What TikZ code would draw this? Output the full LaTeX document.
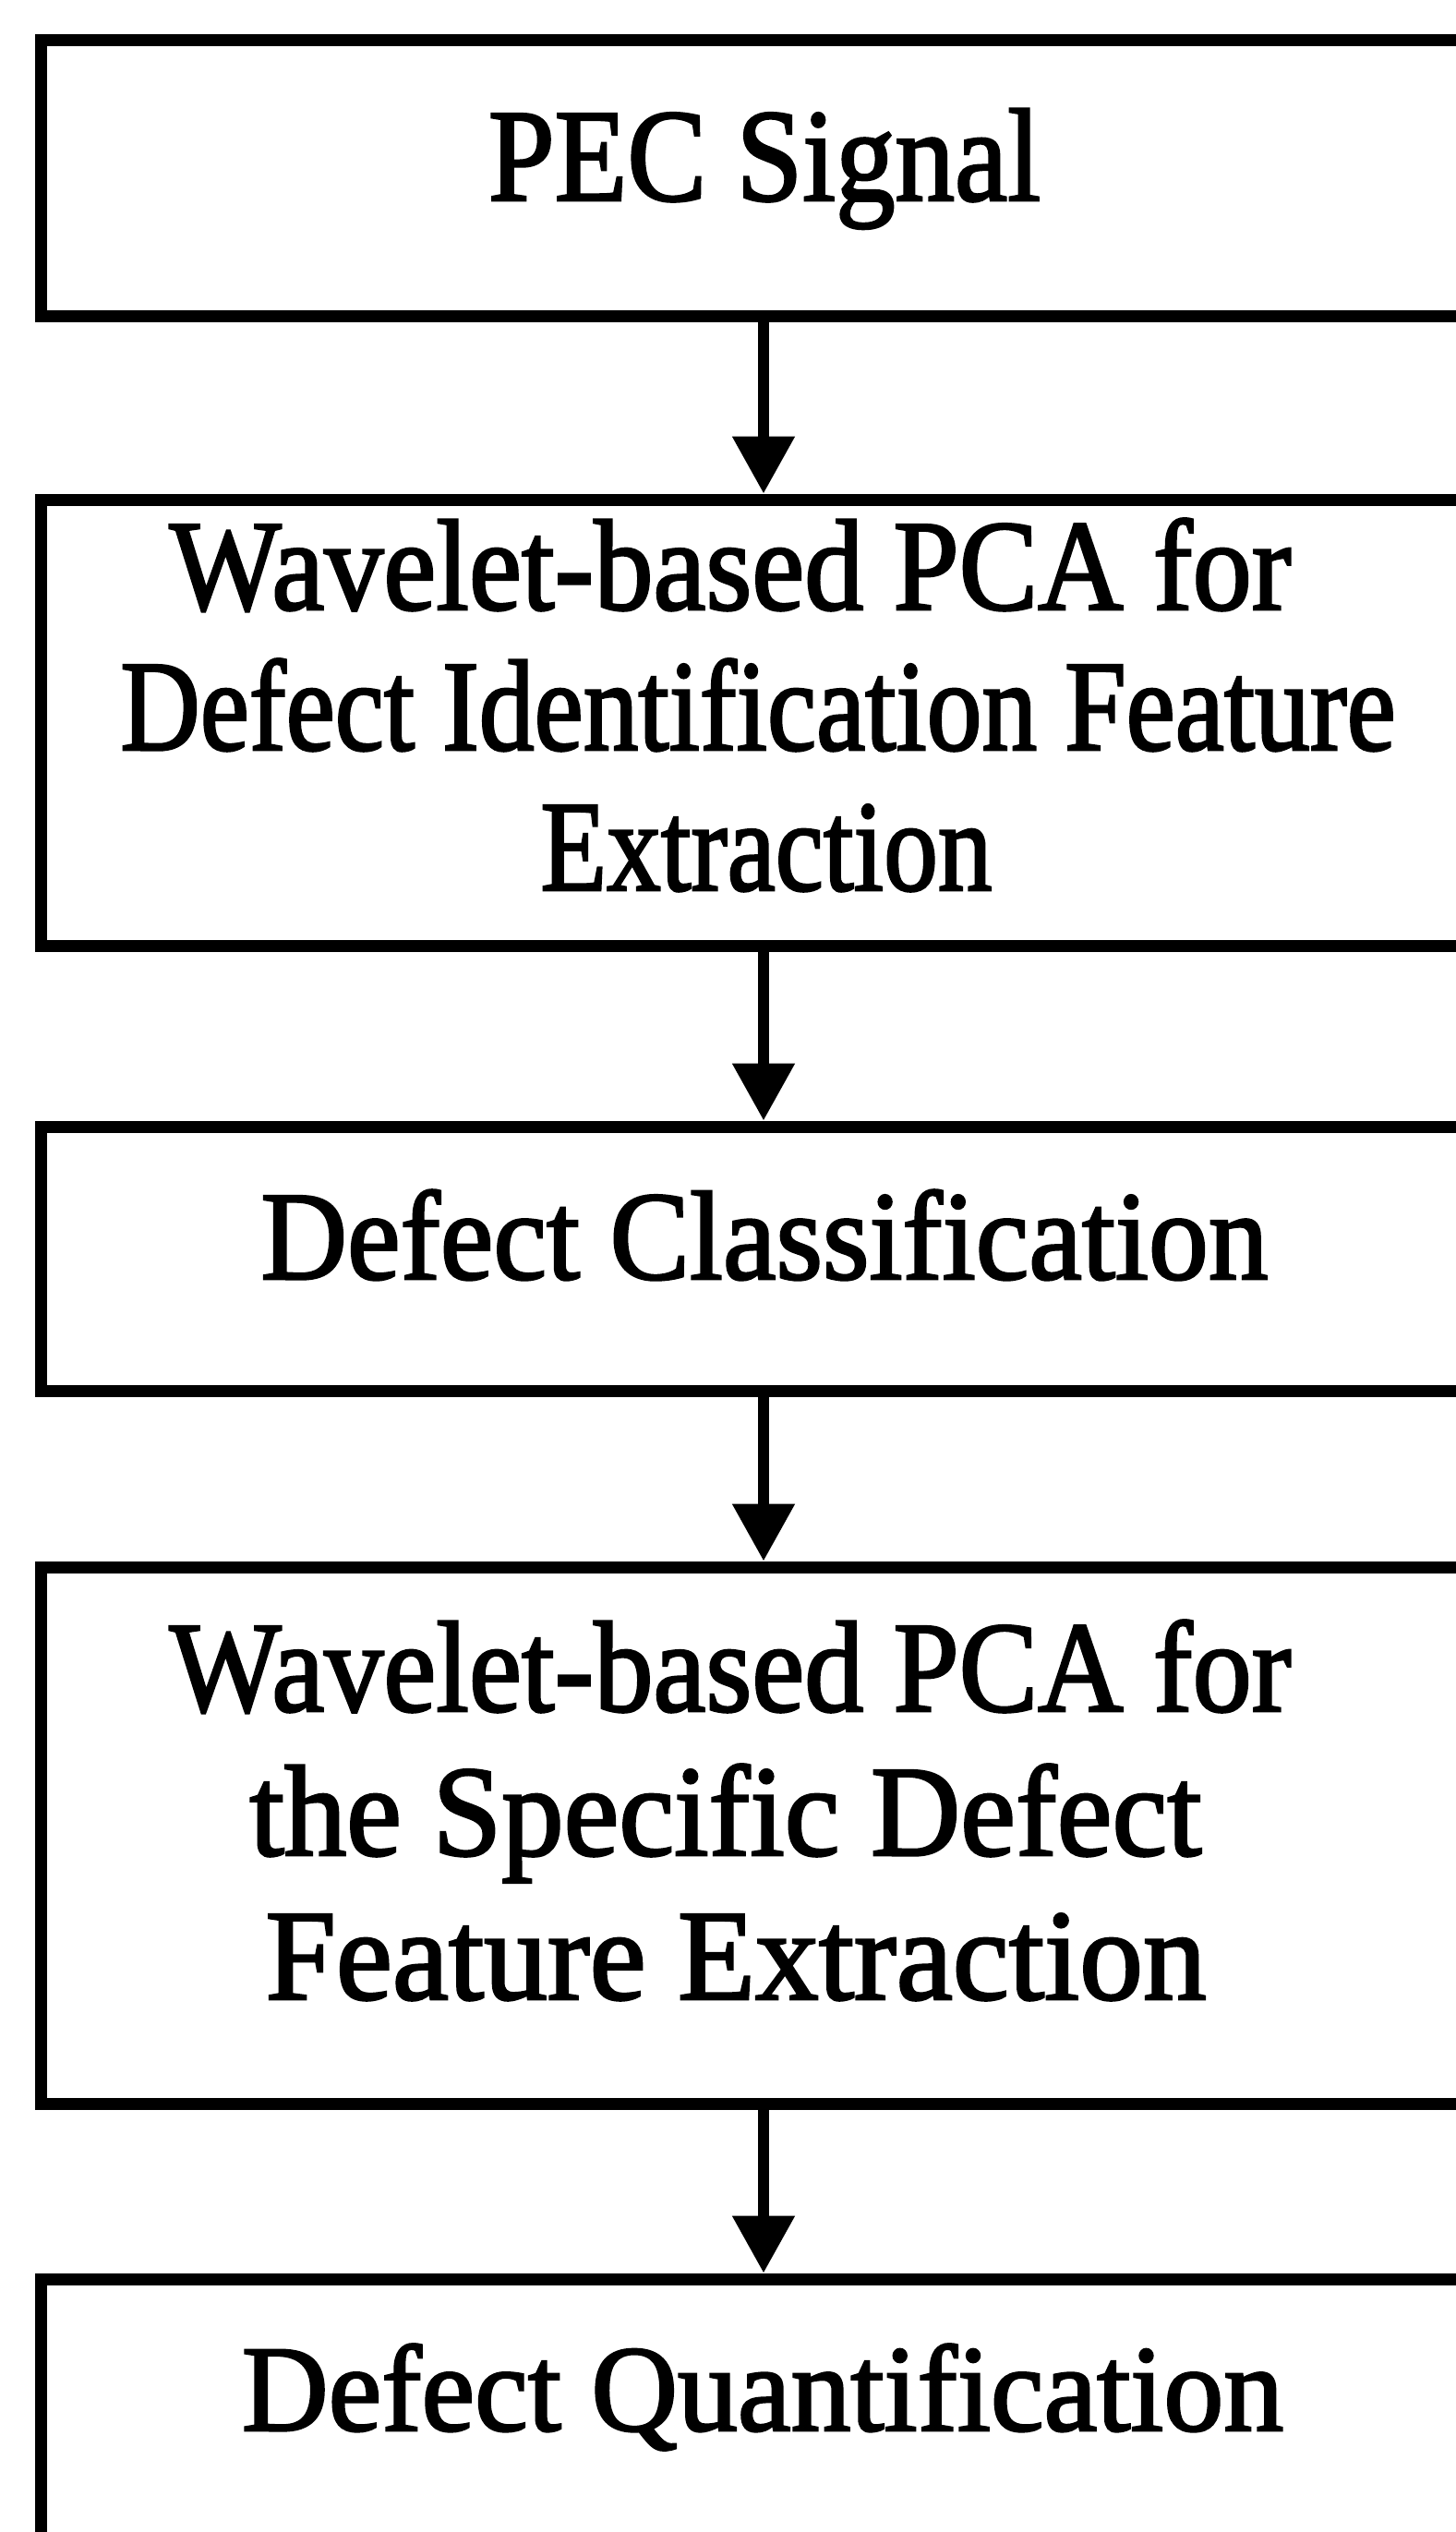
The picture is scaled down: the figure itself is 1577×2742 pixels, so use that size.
\documentclass[tikz,border=0pt]{standalone}
\usepackage{fontspec}
\usepackage{graphicx}
\setmainfont[FakeBold=2]{Liberation Serif}
\usetikzlibrary{arrows.meta}
\newcommand{\fitline}[3]{{\fontsize{#1pt}{#1pt}\selectfont\resizebox{#2pt}{\height}{#3}}}
\begin{document}
\begin{tikzpicture}[x=1pt,y=-1pt,
  box/.style={draw=black, line width=13pt, rectangle, inner sep=0pt, minimum width=1566pt},
  lbl/.style={inner sep=0pt, anchor=base},
  arr/.style={line width=12pt, -{Triangle[width=65pt,length=62pt]}}]
\useasboundingbox (0,0) rectangle (1577,2742);
\clip (0,0) rectangle (1577,2742);
\fill[white] (0,0) rectangle (1577,2742);
% boxes
\node[box, minimum height=299pt] (b1) at (827,192.5) {};
\node[box, minimum height=483pt] (b2) at (827,782.5) {};
\node[box, minimum height=286pt] (b3) at (827,1363) {};
\node[box, minimum height=581pt] (b4) at (827,1987.5) {};
\node[box, minimum height=500pt] (b5) at (827,2718) {};
% texts
\node[lbl] (t1) at (828,217) {\fitline{143}{598}{PEC Signal}};
\node[lbl] (t2a) at (791,660) {\fitline{140}{1215}{Wavelet-based PCA for}};
\node[lbl] (t2b) at (821,812) {\fitline{140}{1381}{Defect Identification Feature}};
\node[lbl] (t2c) at (830,964) {\fitline{140}{489}{Extraction}};
\node[lbl] (t3) at (828,1385) {\fitline{137}{1091}{Defect Classification}};
\node[lbl] (t4a) at (791,1853) {\fitline{140}{1215}{Wavelet-based PCA for}};
\node[lbl] (t4b) at (786,2009) {\fitline{140}{1031}{the Specific Defect}};
\node[lbl] (t4c) at (797,2165) {\fitline{140}{1019}{Feature Extraction}};
\node[lbl] (t5) at (826,2632) {\fitline{133}{1128}{Defect Quantification}};
% connectors
\coordinate (ax) at (827,0);
\draw[arr] (b1.south -| ax) -- (b2.north -| ax);
\draw[arr] (b2.south -| ax) -- (b3.north -| ax);
\draw[arr] (b3.south -| ax) -- (b4.north -| ax);
\draw[arr] (b4.south -| ax) -- (b5.north -| ax);
\end{tikzpicture}
\end{document}
